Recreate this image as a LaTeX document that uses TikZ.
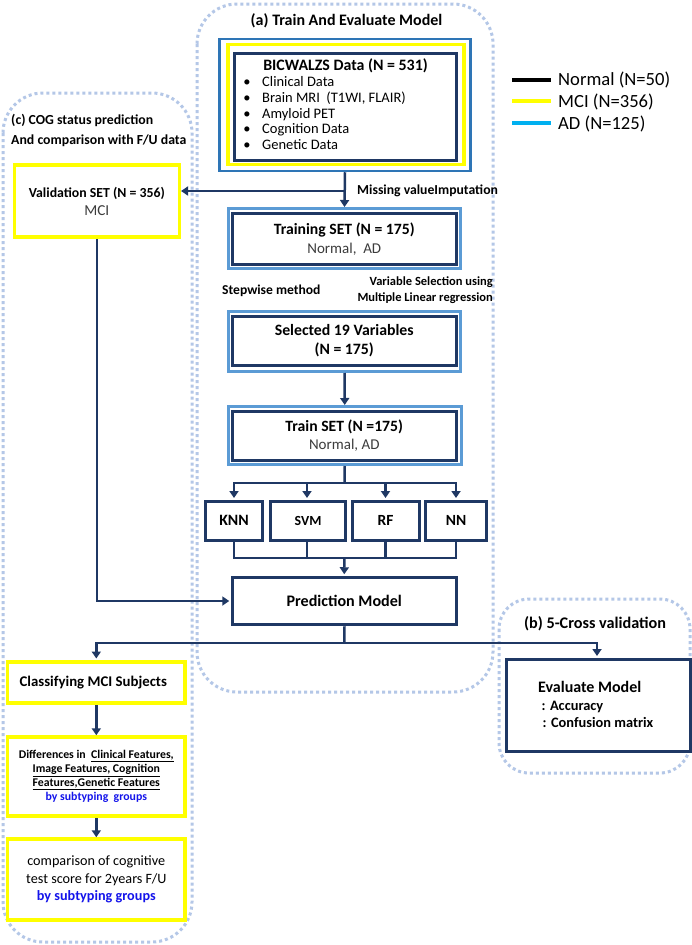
\documentclass[tikz,border=0pt]{standalone}
\usepackage{fontspec}
\setmainfont{Carlito}
\usetikzlibrary{arrows.meta}
\definecolor{navy}{RGB}{31,56,100}
\definecolor{midblue}{RGB}{46,117,182}
\definecolor{lightblue}{RGB}{91,155,213}
\definecolor{framecol}{RGB}{180,199,231}
\definecolor{ylw}{RGB}{255,255,0}
\definecolor{cyanad}{RGB}{0,176,240}
\definecolor{subblue}{RGB}{20,20,235}
\definecolor{greytxt}{RGB}{60,60,60}
\newcommand{\fs}[2]{\fontsize{#1}{#2}\selectfont}
\begin{document}
\begin{tikzpicture}[x=1pt,y=-1pt,
  frame/.style={draw=framecol,line width=3pt,dash pattern=on 3pt off 3pt},
  nbox/.style={draw=navy,line width=3pt,fill=white,inner sep=0pt,align=center},
  lbbox/.style={draw=lightblue,line width=3pt,inner sep=0pt},
  ybox/.style={draw=ylw,line width=3.5pt,fill=white,inner sep=0pt,align=center},
  conn/.style={draw=navy,line width=2.5pt},
  arr/.style={conn,-{Triangle[length=7pt,width=9pt]}},
  txt/.style={inner sep=0pt},
  leg/.style={line width=4pt},
]
\useasboundingbox (0,0) rectangle (692,945);
\fill[white] (0,0) rectangle (692,945);

% dotted frames
\draw[frame,rounded corners=40pt] (197,4) rectangle (493,692);
\draw[frame,rounded corners=40pt] (3,93) rectangle (192,942);
\draw[frame,rounded corners=30pt] (499,599) rectangle (690,773);

% titles of frames
\node[txt,anchor=base,font=\bfseries\fs{16}{19}] (ta) at (346.5,25) {(a) Train And Evaluate Model};
\node[txt,anchor=base west,font=\bfseries\fs{13.8}{16}] (tc1) at (11,124.4) {(c) COG status prediction};
\node[txt,anchor=base west,font=\bfseries\fs{13.8}{16}] (tc2) at (11,144.4) {And comparison with F/U data};
\node[txt,anchor=base,font=\bfseries\fs{16.2}{19}] (tb) at (595,628) {(b) 5-Cross validation};

% legend
\draw[leg,black] (512,80) -- (551,80);
\draw[leg,ylw] (512,101) -- (551,101);
\draw[leg,cyanad] (512,123) -- (551,123);
\node[txt,anchor=base west,font=\fs{18.6}{22}] (l1) at (558,85) {Normal (N=50)};
\node[txt,anchor=base west,font=\fs{18.6}{22}] (l2) at (558,107) {MCI (N=356)};
\node[txt,anchor=base west,font=\fs{18.6}{22}] (l3) at (558,129) {AD (N=125)};

% BICWALZS data box
\node[draw=midblue,line width=2.5pt,inner sep=0pt,minimum width=251pt,minimum height=132pt] (bicout) at (345,105) {};
\node[ybox,minimum width=236pt,minimum height=120pt] (bicy) at (346,104.5) {};
\node[nbox,minimum width=222pt,minimum height=106.5pt] (bic) at (345.5,106.75) {};
\node[txt,anchor=base,font=\bfseries\fs{15.9}{18}] (bict) at (345.5,70) {BICWALZS Data (N = 531)};
\foreach \t [count=\i] in {Clinical Data,{Brain MRI\ \ (T1WI, FLAIR)},Amyloid PET,Cognition Data,Genetic Data}{
  \node[txt,anchor=base,font=\fs{14.5}{16}] (bu\i) at (247,{86.5+15.75*(\i-1)}) {\textbullet};
  \node[txt,anchor=base west,font=\fs{14.5}{16}] (bt\i) at (262,{86.5+15.75*(\i-1)}) {\t};
}

% training set
\node[lbbox,minimum width=232pt,minimum height=60pt] (trout) at (344.5,238.5) {};
\node[nbox,minimum width=224.5pt,minimum height=50.5pt,font=\bfseries\fs{15.7}{19}] (tr) at (344.25,238.75) {Training SET (N = 175)\\{\mdseries\fs{15}{19}\color{greytxt}Normal,\ \ AD}};

\node[txt,anchor=base west,font=\bfseries\fs{13.6}{16}] (sw) at (222,294.4) {Stepwise method};
\node[txt,anchor=base east,font=\bfseries\fs{12.5}{15}] (vs1) at (493,285.7) {Variable Selection using};
\node[txt,anchor=base east,font=\bfseries\fs{12.5}{15}] (vs2) at (493,301.7) {Multiple Linear regression};

% selected variables
\node[lbbox,minimum width=232pt,minimum height=60pt] (selout) at (344.5,341.5) {};
\node[nbox,minimum width=224.5pt,minimum height=48.5pt,font=\bfseries\fs{15.8}{19}] (sel) at (344.25,340.75) {Selected 19 Variables\\(N = 175)};

% train set
\node[lbbox,minimum width=232.5pt,minimum height=58pt] (tsout) at (344.75,435.5) {};
\node[nbox,minimum width=224.5pt,minimum height=48.5pt,font=\bfseries\fs{15.7}{18}] (ts) at (344.25,435.75) {Train SET (N =175)\\{\mdseries\fs{15}{18}\color{greytxt}Normal,\ AD}};

% models
\node[nbox,minimum width=57pt,minimum height=39pt,font=\bfseries\fs{15.8}{18}] (knn) at (234,520.5) {KNN};
\node[nbox,minimum width=75pt,minimum height=39pt,font=\bfseries\fs{13.9}{16}] (svm) at (308,520.5) {SVM};
\node[nbox,minimum width=67pt,minimum height=39pt,font=\bfseries\fs{15.5}{18}] (rf) at (385.5,520.5) {RF};
\node[nbox,minimum width=61pt,minimum height=39pt,font=\bfseries\fs{15.5}{18}] (nn) at (456,520.5) {NN};

% prediction model
\node[nbox,minimum width=224pt,minimum height=47.5pt,font=\bfseries\fs{16.1}{19}] (pred) at (344.25,601) {Prediction Model};

% validation
\node[ybox,minimum width=165pt,minimum height=72pt,font=\bfseries\fs{13.8}{18}] (val) at (96.8,201) {Validation SET (N = 356)\\{\mdseries\fs{15.2}{18}\color{greytxt}MCI}};

% left column
\node[ybox,minimum width=177.3pt,minimum height=41pt,font=\bfseries\fs{14.8}{17}] (cls) at (96.3,682.5) {Classifying\ MCI Subjects\hspace{6pt}};
\node[ybox,minimum width=177.3pt,minimum height=79pt,font=\bfseries\fs{11.8}{14}] (dif) at (96.3,776.5) {Differences in\ \ \underline{Clinical Features,}\\\underline{Image Features, Cognition}\\\underline{Features,Genetic Features}\\{\color{subblue}by subtyping\ \ groups}};
\node[ybox,minimum width=177.3pt,minimum height=81pt,font=\fs{14.2}{17.5}] (cmp) at (96.3,879.5) {comparison of cognitive\\test score for 2years F/U\\{\bfseries\color{subblue}by subtyping groups}};

% evaluate model
\node[nbox,minimum width=184pt,minimum height=92.5pt] (ev) at (598.5,705.25) {};
\node[txt,anchor=base west,font=\bfseries\fs{16}{19}] (ev1) at (538,692) {Evaluate Model};
\node[txt,anchor=base west,font=\bfseries\fs{14.4}{17}] (ev2) at (541.5,710.6) {: Accuracy};
\node[txt,anchor=base west,font=\bfseries\fs{14.4}{17}] (ev3) at (542.5,727.6) {: Confusion matrix};

% connectors
\coordinate (j1) at (344.5,191);
\draw[arr] (bicout.south) -- (trout.north);
\draw[arr] (j1) -- (val.east |- j1);
\node[txt,anchor=base west,font=\bfseries\fs{13.7}{16}] (miss) at (357,194.5) {Missing valueImputation};

\draw[arr] (selout.south) -- (tsout.north);

\coordinate (split) at (344.5,483);
\draw[conn] (tsout.south) -- (split);
\draw[arr] (split) -| ([yshift=1.5pt]knn.north);
\draw[arr] (split) -| ([xshift=-1pt,yshift=1.5pt]svm.north);
\draw[arr] (split) -| ([yshift=1.5pt]rf.north);
\draw[arr] (split) -| ([yshift=1.5pt]nn.north);

\coordinate (merge) at (344.5,558);
\draw[conn] (knn.south) |- (merge);
\draw[conn] ([xshift=-1pt]svm.south) |- (merge);
\draw[conn] (rf.south) |- (merge);
\draw[conn] (nn.south) |- (merge);
\draw[arr] (merge) -- ([yshift=1.5pt]pred.north);

\draw[arr] (val.south) |- ([xshift=-1.5pt]pred.west);

\coordinate (split2) at (344.5,643);
\draw[conn] (pred.south) -- (split2);
\draw[arr] (split2) -| ([yshift=1.75pt]cls.north);
\draw[arr] (split2) -| ([xshift=-1.5pt,yshift=1.5pt]ev.north);

\draw[arr] (cls.south) -- (dif.north);
\draw[arr] (dif.south) -- (cmp.north);
\end{tikzpicture}
\end{document}
